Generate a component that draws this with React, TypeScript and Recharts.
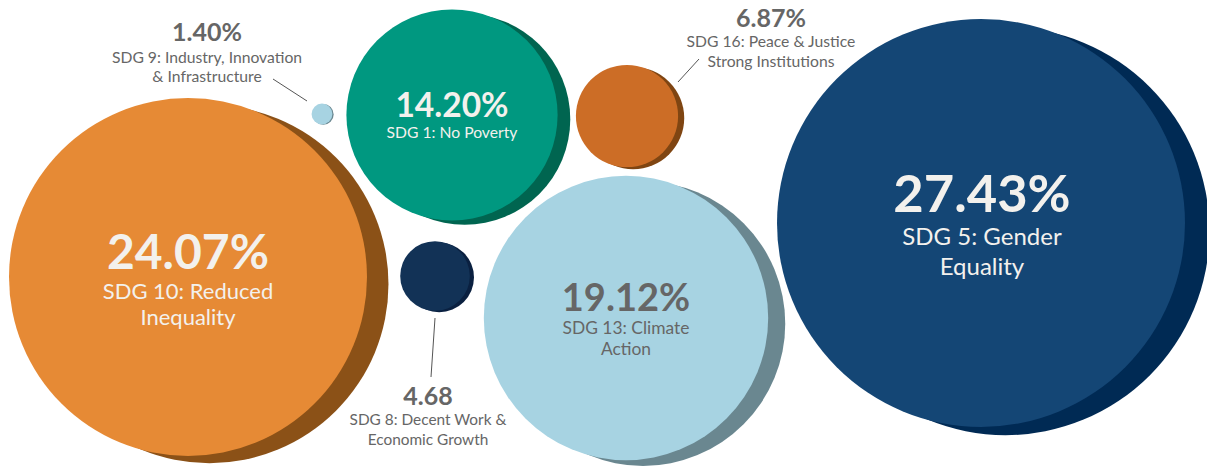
import React from 'react';
import { ScatterChart, Scatter, XAxis, YAxis, ZAxis } from 'recharts';

// ---- data ----
const sdgKeys = ['sdg5', 'sdg10', 'sdg13', 'sdg1', 'sdg16', 'sdg8', 'sdg9'];
const sdgShares = [27.43, 24.07, 19.12, 14.2, 6.87, 4.68, 1.4];
const shareLabels = ['27.43%', '24.07%', '19.12%', '14.20%', '6.87%', '4.68', '1.40%'];
const sdgLabelLines = [
  ['SDG 5: Gender', 'Equality'],
  ['SDG 10: Reduced', 'Inequality'],
  ['SDG 13: Climate', 'Action'],
  ['SDG 1: No Poverty'],
  ['SDG 16: Peace & Justice', 'Strong Institutions'],
  ['SDG 8: Decent Work &', 'Economic Growth'],
  ['SDG 9: Industry, Innovation', '& Infrastructure'],
];
// packed-bubble layout coordinates (chart units)
const bubbleX = [981, 188, 626, 452, 627, 435, 322];
const bubbleY = [223, 277, 318, 115, 116, 276, 114];

const chartData = sdgKeys.map((key, i) => ({
  key,
  x: bubbleX[i],
  y: bubbleY[i],
  z: sdgShares[i],
  value: shareLabels[i],
  lines: sdgLabelLines[i],
}));

// ---- styles ----
const LIGHT = '#f3f1ed';
const GRAY = '#666666';
const FONT = 'Lato, "Open Sans", sans-serif';

type Style = {
  fill: string;
  shadow: string;
  text: string;
  numSize: number;
  subSize: number;
  dx: number; // label centre relative to cx
  numDy: number;
  lineDy: number[];
  leader?: [number, number, number, number];
};

const STYLES: Record<string, Style> = {
  sdg5: { fill: '#144675', shadow: '#002a54', text: LIGHT, numSize: 52.5, subSize: 24, dx: 1, numDy: -11, lineDy: [22, 52] },
  sdg10: { fill: '#e68a35', shadow: '#8b5117', text: LIGHT, numSize: 48, subSize: 22, dx: 0, numDy: -8, lineDy: [22, 48] },
  sdg13: { fill: '#a7d3e2', shadow: '#6a8790', text: GRAY, numSize: 38, subSize: 17.4, dx: 0, numDy: -7, lineDy: [16, 37] },
  sdg1: { fill: '#009880', shadow: '#006550', text: LIGHT, numSize: 33.5, subSize: 15.7, dx: 0, numDy: 2, lineDy: [23] },
  sdg16: { fill: '#cc6d26', shadow: '#7f4512', text: GRAY, numSize: 25, subSize: 15.7, dx: 144, numDy: -89, lineDy: [-69, -49], leader: [51, -34, 72, -57] },
  sdg8: { fill: '#123256', shadow: '#0a2040', text: GRAY, numSize: 25, subSize: 15.4, dx: -7, numDy: 129, lineDy: [149, 169], leader: [0, 42, -4, 101] },
  sdg9: { fill: '#a7d3e2', shadow: '#6a8790', text: GRAY, numSize: 25, subSize: 15.7, dx: -115, numDy: -73, lineDy: [-51, -32], leader: [-15, -13, -49, -35] },
};

const BubbleShape = (props: any) => {
  const { cx, cy, payload } = props;
  if (cx == null || cy == null || !payload) return null;
  const r: number = typeof props.size === 'number' ? props.size : Math.PI * Math.pow((props.width || 0) / 2, 2);
  const s = STYLES[payload.key];
  const ox = r * 0.12;
  const oy = r * 0.04;
  const tx = cx + s.dx;
  return (
    <g>
      <circle cx={cx + ox} cy={cy + oy} r={r} fill={s.shadow} />
      <circle cx={cx} cy={cy} r={r} fill={s.fill} />
      {s.leader && (
        <line
          x1={cx + s.leader[0]}
          y1={cy + s.leader[1]}
          x2={cx + s.leader[2]}
          y2={cy + s.leader[3]}
          stroke="#555555"
          strokeWidth={1}
        />
      )}
      <text x={tx} y={cy + s.numDy} textAnchor="middle" fill={s.text} fontFamily={FONT} fontWeight={700} fontSize={s.numSize}>
        {payload.value}
      </text>
      {payload.lines.map((ln: string, i: number) => (
        <text key={i} x={tx} y={cy + s.lineDy[i]} textAnchor="middle" fill={s.text} fontFamily={FONT} fontSize={s.subSize}>
          {ln}
        </text>
      ))}
    </g>
  );
};

export default function App() {
  return (
    <div style={{ position: 'absolute', left: 0, top: 0, width: 1207, height: 466, background: '#ffffff' }}>
      <ScatterChart width={1207} height={466} margin={{ top: 0, right: 0, bottom: 0, left: 0 }}>
        <XAxis type="number" dataKey="x" domain={[0, 1207]} hide />
        <YAxis type="number" dataKey="y" domain={[0, 466]} reversed hide />
        <ZAxis type="number" dataKey="z" domain={[0, 30]} range={[0, 223.1]} />
        <Scatter data={chartData} shape={<BubbleShape />} isAnimationActive={false} />
      </ScatterChart>
    </div>
  );
}
